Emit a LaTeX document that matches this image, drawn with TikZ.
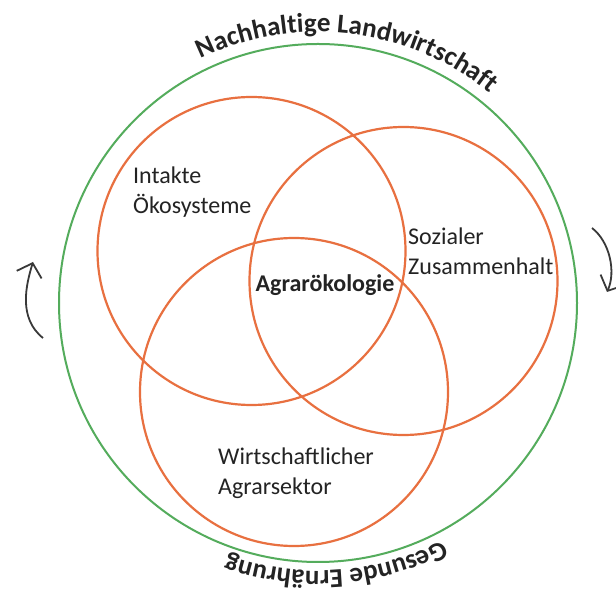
\documentclass[tikz,border=0pt]{standalone}
\usepackage{fontspec}
\setmainfont{Carlito}
\usetikzlibrary{decorations.text,arrows.meta}
\definecolor{venn}{RGB}{232,112,64}
\definecolor{ring}{RGB}{84,172,92}
\definecolor{ink}{RGB}{35,35,35}
\begin{document}
\begin{tikzpicture}[x=1pt,y=1pt,
  venncircle/.style={circle,draw=venn,line width=2.2pt,inner sep=0pt,minimum size=308pt},
  ringcircle/.style={circle,draw=ring,line width=2pt,inner sep=0pt,minimum size=518pt},
  vtext/.style={font=\fontsize{24}{30}\selectfont,text=ink,align=left,inner sep=0pt,anchor=north west},
  cyc/.style={draw=ink!90,line width=1.8pt,-{Straight Barb[length=12pt,width=26pt]}}]
\useasboundingbox (0,0) rectangle (616,597);
\fill[white] (0,0) rectangle (616,597);
% circles
\node[ringcircle] (ringc) at (318,294) {};
\node[venncircle] (eco) at (251.5,346) {};
\node[venncircle] (soc) at (403.5,316) {};
\node[venncircle] (wirt) at (294,205) {};
% curved titles
\path[decorate,decoration={text along path,text align=center,text color=ink,
  text={|\fontsize{27}{27}\selectfont\bfseries|Nachhaltige Landwirtschaft}}]
  ([shift={(123.2:271)}]ringc.center) arc[start angle=123.2,end angle=43.2,radius=271];
\path[decorate,decoration={text along path,text align=center,text color=ink,
  text={|\fontsize{27}{27}\selectfont\bfseries|Gesunde Ernährung}}]
  ([shift={(-46:268)}]ringc.center) arc[start angle=-46,end angle=-126,radius=268];
% labels
\node[vtext] (ecotext) at (133,430) {Intakte\\Ökosysteme};
\node[vtext] (soctext) at (408,369) {Sozialer\\Zusammenhalt};
\node[vtext] (wirttext) at (218,149) {Wirtschaftlicher\\Agrarsektor};
\node[font=\fontsize{24}{30}\selectfont\bfseries,text=ink,inner sep=0pt,anchor=base] (agr) at (325,305) {Agrarökologie};
% cycle arrows
\coordinate (la) at (43,259);
\coordinate (lb) at (33,335);
\draw[cyc] (la) .. controls (18,279) and (26,312) .. (lb);
\coordinate (ra) at (592,369);
\coordinate (rb) at (607,305);
\draw[cyc] (ra) .. controls (610,355) and (616,325) .. (rb);
\end{tikzpicture}
\end{document}
